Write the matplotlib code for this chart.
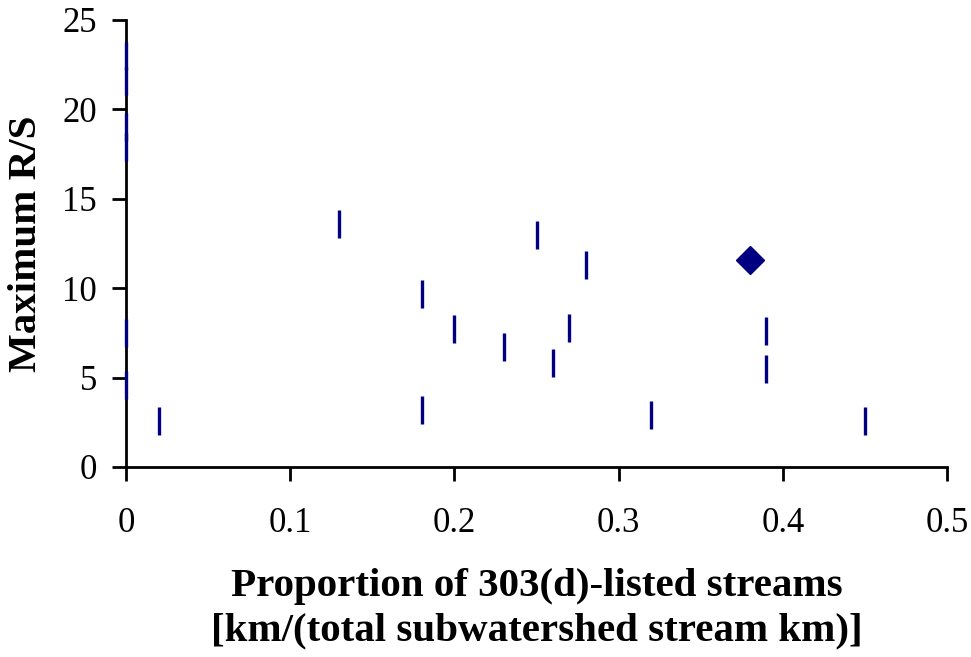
import matplotlib
matplotlib.use("Agg")
import matplotlib.pyplot as plt

# Data
x_vals = [0.0, 0.0, 0.0, 0.0, 0.0, 0.0, 0.02, 0.13, 0.18, 0.18, 0.20, 0.23,
          0.25, 0.26, 0.27, 0.28, 0.32, 0.39, 0.39, 0.45]
y_vals = [23.0, 21.6, 19.0, 17.9, 7.5, 4.6, 2.6, 13.6, 9.7, 3.2, 7.7, 6.7,
          13.0, 5.8, 7.8, 11.3, 2.9, 7.6, 5.5, 2.6]
highlight_x = [0.38]
highlight_y = [11.6]

x_ticks = [0, 0.1, 0.2, 0.3, 0.4, 0.5]
x_ticklabels = ["0", "0.1", "0.2", "0.3", "0.4", "0.5"]
y_ticks = [0, 5, 10, 15, 20, 25]

color = "#000080"
plt.rcParams['font.family'] = ['Liberation Serif', 'DejaVu Serif']

fig = plt.figure(figsize=(9.71, 6.57), dpi=100)
ax = fig.add_axes([0.1298, 0.2892, 0.8455, 0.6804])

ax.plot(x_vals, y_vals, linestyle='none', marker='|', markersize=20,
        markeredgewidth=2.4, color=color, clip_on=False, zorder=4)
ax.plot(highlight_x, highlight_y, linestyle='none', marker='D', markersize=14,
        color=color, clip_on=False, zorder=4)

ax.set_xlim(0, 0.5)
ax.set_ylim(0, 25)
ax.set_xticks(x_ticks)
ax.set_xticklabels(x_ticklabels)
ax.set_yticks(y_ticks)

for s in ['top', 'right']:
    ax.spines[s].set_visible(False)
for s in ['left', 'bottom']:
    ax.spines[s].set_linewidth(2)
    ax.spines[s].set_color('black')

ax.tick_params(axis='x', direction='out', length=10, width=2, pad=19, labelsize=25)
ax.tick_params(axis='y', direction='out', length=10, width=2, pad=11, labelsize=25)

ax.set_xlabel("Proportion of 303(d)-listed streams\n[km/(total subwatershed stream km)]",
              fontsize=29.5, fontweight='bold', labelpad=20, linespacing=1.25)
ax.set_ylabel("Maximum R/S", fontsize=29.5, fontweight='bold', labelpad=12)

fig.savefig("out.png", dpi=100)
